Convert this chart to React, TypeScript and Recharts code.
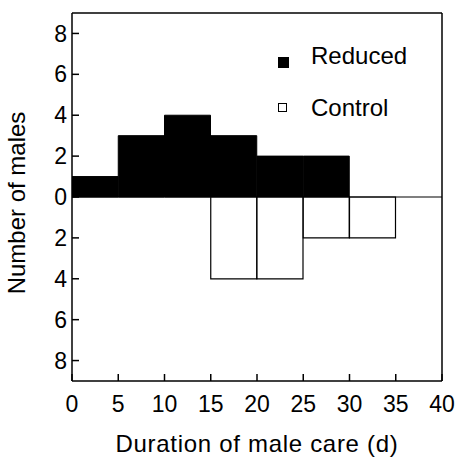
import React from 'react';
import { BarChart, Bar, XAxis, YAxis, ReferenceLine, Legend } from 'recharts';

const binStarts = [0, 5, 10, 15, 20, 25, 30, 35];
const binWidth = 5;
const reducedCounts = [1, 3, 4, 3, 2, 2, 0, 0];
const controlCounts = [0, 0, 0, 4, 4, 2, 2, 0];
const xTicks = [0, 5, 10, 15, 20, 25, 30, 35, 40];
const yTicks = [-8, -6, -4, -2, 0, 2, 4, 6, 8];
const rightTicks = [8.1, 5.4, 2.7, -2.6, -5.3, -8.0];
const legendItems = [
  { label: 'Reduced', filled: true },
  { label: 'Control', filled: false },
];

const data = binStarts.map((s, i) => ({
  mid: s + binWidth / 2,
  reduced: reducedCounts[i] ? reducedCounts[i] : null,
  control: controlCounts[i] ? -controlCounts[i] : null,
}));

const FONT = '"Liberation Sans", Arial, Helvetica, sans-serif';

const renderLegend = () => (
  <div style={{ position: 'relative', width: 170, height: 90, fontFamily: FONT, fontSize: 24, color: '#000' }}>
    {legendItems.map((item, i) => (
      <React.Fragment key={item.label}>
        <div
          style={{
            position: 'absolute',
            left: 8,
            top: item.filled ? 17 : 63,
            width: item.filled ? 11 : 9,
            height: item.filled ? 11 : 9,
            boxSizing: 'border-box',
            background: item.filled ? '#000' : '#fff',
            border: '1px solid #000',
          }}
        />
        <div style={{ position: 'absolute', left: 41, top: i === 0 ? 4 : 56, lineHeight: '24px', whiteSpace: 'nowrap' }}>
          {item.label}
        </div>
      </React.Fragment>
    ))}
  </div>
);

const YLabel = (props: any) => {
  const vb = props.viewBox || {};
  const x = (vb.x ?? 0) + 25;
  const y = (vb.y ?? 0) + vb.height / 2 + 6;
  return (
    <text x={x} y={y} transform={`rotate(-90 ${x} ${y})`} textAnchor="middle" fontSize={24} fontFamily={FONT} fill="#000">
      Number of males
    </text>
  );
};

export default function App() {
  return (
    <div style={{ position: 'absolute', left: 0, top: 0, width: 459, height: 462, background: '#fff' }}>
      <BarChart
        width={459}
        height={462}
        data={data}
        stackOffset="sign"
        barCategoryGap={0}
        barGap={0}
        margin={{ top: 0, right: 0, left: 0, bottom: 0 }}
        style={{ fontFamily: FONT }}
      >
        <XAxis
          dataKey="mid"
          type="number"
          domain={[0, 40]}
          allowDataOverflow
          ticks={xTicks}
          interval={0}
          height={81}
          tickSize={-7}
          tickMargin={22}
          axisLine={{ stroke: '#000', strokeWidth: 1.5 }}
          tickLine={{ stroke: '#000', strokeWidth: 1.5 }}
          tick={{ fill: '#000', fontSize: 23, fontFamily: FONT }}
          label={{ value: 'Duration of male care (d)', position: 'insideBottom', offset: 10, fill: '#000', fontSize: 24, fontFamily: FONT, letterSpacing: 0.7 }}
        />
        <XAxis
          xAxisId="top"
          dataKey="mid"
          orientation="top"
          type="number"
          domain={[0, 40]}
          allowDataOverflow
          ticks={xTicks}
          interval={0}
          height={13}
          tickSize={-7}
          tick={false}
          axisLine={{ stroke: '#000', strokeWidth: 1.5 }}
          tickLine={{ stroke: '#000', strokeWidth: 1.5 }}
        />
        <YAxis
          type="number"
          domain={[-9, 9]}
          allowDataOverflow
          ticks={yTicks}
          interval={0}
          width={72}
          tickSize={-7}
          tickMargin={12}
          tickFormatter={(v: number) => String(Math.abs(v))}
          axisLine={{ stroke: '#000', strokeWidth: 1.5 }}
          tickLine={{ stroke: '#000', strokeWidth: 1.5 }}
          tick={{ fill: '#000', fontSize: 23, fontFamily: FONT }}
          label={<YLabel />}
        />
        <YAxis
          yAxisId="right"
          orientation="right"
          type="number"
          domain={[-9, 9]}
          allowDataOverflow
          ticks={rightTicks}
          interval={0}
          width={17}
          tickSize={-7}
          tick={false}
          axisLine={{ stroke: '#000', strokeWidth: 1.5 }}
          tickLine={{ stroke: '#000', strokeWidth: 1.5 }}
        />
        <Bar dataKey="reduced" stackId="s" fill="#000" stroke="#000" strokeWidth={1} isAnimationActive={false} />
        <Bar dataKey="control" stackId="s" fill="#fff" stroke="#000" strokeWidth={1.2} isAnimationActive={false} />
        <ReferenceLine y={0} stroke="#000" strokeWidth={1.2} />
        <Legend
          layout="vertical"
          align="center"
          verticalAlign="middle"
          content={renderLegend}
          wrapperStyle={{ left: 270, top: 40, width: 170, height: 90 }}
        />
      </BarChart>
    </div>
  );
}
